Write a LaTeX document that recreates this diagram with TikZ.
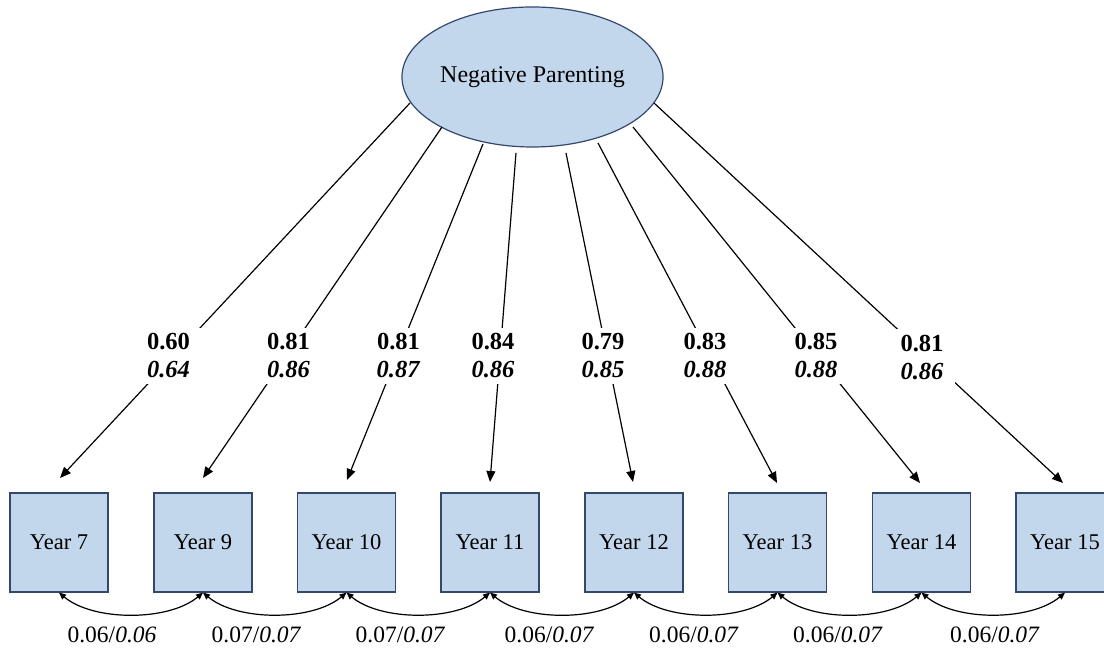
\documentclass[tikz,border=0pt]{standalone}
\usepackage{fontspec}
\setmainfont{Liberation Serif}
\usetikzlibrary{arrows.meta,shapes.geometric}
\definecolor{boxfill}{RGB}{194,214,236}
\definecolor{boxline}{RGB}{52,72,110}
\begin{document}
\begin{tikzpicture}[x=1pt,y=1pt,
  latent/.style={ellipse,draw=boxline,fill=boxfill,line width=1.2pt,minimum width=239pt,minimum height=140pt,inner sep=0pt,font=\fontsize{24}{28}\selectfont},
  obs/.style={rectangle,draw=boxline,fill=boxfill,line width=1.2pt,minimum width=98pt,minimum height=99pt,inner sep=0pt,font=\fontsize{22.5}{27}\selectfont},
  load/.style={draw=black,line width=1.2pt,-{Triangle[length=11pt,width=9pt]}},
  loadlab/.style={fill=white,align=center,inner xsep=12pt,inner ysep=6pt,font=\fontsize{24.5}{28}\selectfont\bfseries},
  cov/.style={line width=1.2pt,{Triangle[length=7pt,width=6pt]}-{Triangle[length=7pt,width=6pt]},out=-40,in=-140,looseness=0.8},
  covlab/.style={font=\fontsize{23.5}{26}\selectfont,inner sep=0pt}
]
\useasboundingbox (0,0) rectangle (1104,652);

\node[latent] (np) at (532.5,575) {Negative Parenting};

\node[obs] (y7)  at (59,109.5)    {Year 7};
\node[obs] (y9)  at (203,109.5)   {Year 9};
\node[obs] (y10) at (346.5,109.5) {Year 10};
\node[obs] (y11) at (490,109.5)   {Year 11};
\node[obs] (y12) at (634,109.5)   {Year 12};
\node[obs] (y13) at (777.5,109.5) {Year 13};
\node[obs] (y14) at (921.5,109.5) {Year 14};
\node[obs] (y15) at (1065,109.5)  {Year 15};

% start points near the ellipse and arrow tips above the boxes
\coordinate (s7)  at (410,549);
\coordinate (s9)  at (442,525);
\coordinate (s10) at (483,508);
\coordinate (s11) at (516,499);
\coordinate (s12) at (566,499);
\coordinate (s13) at (598,509);
\coordinate (s14) at (633,525);
\coordinate (s15) at (654,549);
\coordinate (t7)  at (60,174);
\coordinate (t9)  at (203,174);
\coordinate (t10) at (347,172);
\coordinate (t11) at (490,170);
\coordinate (t12) at (633,170);
\coordinate (t13) at (777,169);
\coordinate (t14) at (920,169);
\coordinate (t15) at (1063,169);

\draw[load] (s7)  -- (t7);
\draw[load] (s9)  -- (t9);
\draw[load] (s10) -- (t10);
\draw[load] (s11) -- (t11);
\draw[load] (s12) -- (t12);
\draw[load] (s13) -- (t13);
\draw[load] (s14) -- (t14);
\draw[load] (s15) -- (t15);

\node[loadlab] (l7)  at (168.5,296) {0.60\\\textit{0.64}};
\node[loadlab] (l9)  at (288.5,296) {0.81\\\textit{0.86}};
\node[loadlab] (l10) at (398.5,296) {0.81\\\textit{0.87}};
\node[loadlab] (l11) at (493,296)   {0.84\\\textit{0.86}};
\node[loadlab] (l12) at (603,296)   {0.79\\\textit{0.85}};
\node[loadlab] (l13) at (705,296)   {0.83\\\textit{0.88}};
\node[loadlab] (l14) at (816,296)   {0.85\\\textit{0.88}};
\node[loadlab] (l15) at (922,294.5) {0.81\\\textit{0.86}};

\draw[cov] (y7.south)  to (y9.south);
\draw[cov] (y9.south)  to (y10.south);
\draw[cov] (y10.south) to (y11.south);
\draw[cov] (y11.south) to (y12.south);
\draw[cov] (y12.south) to (y13.south);
\draw[cov] (y13.south) to (y14.south);
\draw[cov] (y14.south) to (y15.south);

\node[covlab] (c1) at (112,17)   {0.06/\textit{0.06}};
\node[covlab] (c2) at (256.5,17) {0.07/\textit{0.07}};
\node[covlab] (c3) at (400.5,17) {0.07/\textit{0.07}};
\node[covlab] (c4) at (549.5,17) {0.06/\textit{0.07}};
\node[covlab] (c5) at (694,17)   {0.06/\textit{0.07}};
\node[covlab] (c6) at (838,17)   {0.06/\textit{0.07}};
\node[covlab] (c7) at (995,17)   {0.06/\textit{0.07}};
\end{tikzpicture}
\end{document}
